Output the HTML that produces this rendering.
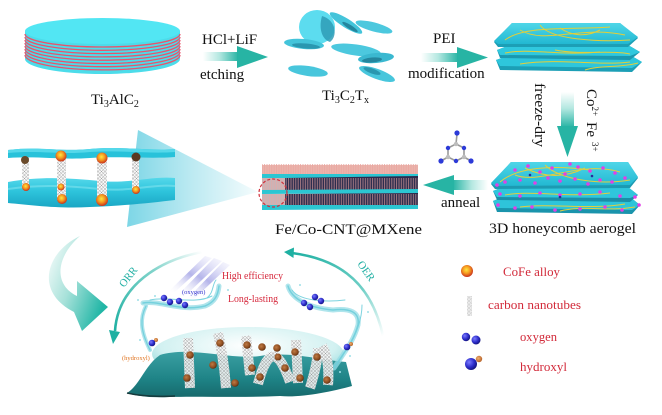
<!DOCTYPE html>
<html><head><meta charset="utf-8">
<style>
html,body{margin:0;padding:0;background:#fff;}
svg{display:block;}
text{font-family:"Liberation Serif","DejaVu Serif",serif;}
</style></head><body>
<svg width="662" height="415" viewBox="0 0 662 415" xmlns="http://www.w3.org/2000/svg">
<defs>
 <linearGradient id="gR" x1="0" y1="0" x2="1" y2="0">
  <stop offset="0" stop-color="#ffffff"/>
  <stop offset="0.45" stop-color="#b5e8e1"/>
  <stop offset="1" stop-color="#22b2a2"/>
 </linearGradient>
 <linearGradient id="gL" x1="1" y1="0" x2="0" y2="0">
  <stop offset="0" stop-color="#ffffff"/>
  <stop offset="0.45" stop-color="#b5e8e1"/>
  <stop offset="1" stop-color="#22b2a2"/>
 </linearGradient>
 <linearGradient id="gD" x1="0" y1="0" x2="0" y2="1">
  <stop offset="0" stop-color="#ffffff"/>
  <stop offset="0.45" stop-color="#b5e8e1"/>
  <stop offset="1" stop-color="#22b2a2"/>
 </linearGradient>
 <linearGradient id="funnel" x1="0" y1="0" x2="1" y2="0">
  <stop offset="0" stop-color="#7dd6e6"/>
  <stop offset="0.5" stop-color="#bdeaf2"/>
  <stop offset="1" stop-color="#f5fcfd"/>
 </linearGradient>
 <linearGradient id="curv" x1="0" y1="0" x2="1" y2="0.6">
  <stop offset="0" stop-color="#ffffff"/>
  <stop offset="0.5" stop-color="#a6e1d9"/>
  <stop offset="1" stop-color="#22b6a6"/>
 </linearGradient>
 <linearGradient id="orr" x1="1" y1="0" x2="0" y2="1">
  <stop offset="0" stop-color="#ffffff"/>
  <stop offset="0.4" stop-color="#7fd3ca"/>
  <stop offset="1" stop-color="#1eb0a2"/>
 </linearGradient>
 <linearGradient id="oer" x1="0" y1="0" x2="1" y2="1">
  <stop offset="0" stop-color="#1eb0a2"/>
  <stop offset="0.6" stop-color="#6fcfc6"/>
  <stop offset="1" stop-color="#ffffff"/>
 </linearGradient>
 <linearGradient id="beam" x1="0" y1="1" x2="1" y2="0">
  <stop offset="0" stop-color="#ffffff" stop-opacity="0"/>
  <stop offset="0.5" stop-color="#b4b4ea"/>
  <stop offset="1" stop-color="#e6e6fa" stop-opacity="0.3"/>
 </linearGradient>
 <radialGradient id="dome" cx="0.5" cy="0.35" r="0.65">
  <stop offset="0" stop-color="#ffffff"/>
  <stop offset="0.7" stop-color="#d2f1f1"/>
  <stop offset="1" stop-color="#86d4d6"/>
 </radialGradient>
 <linearGradient id="base" x1="0" y1="0" x2="0" y2="1">
  <stop offset="0" stop-color="#3a9fa2"/>
  <stop offset="0.6" stop-color="#1e8386"/>
  <stop offset="1" stop-color="#17696c"/>
 </linearGradient>
 <linearGradient id="sheetTop" x1="0" y1="0" x2="0" y2="1">
  <stop offset="0" stop-color="#4fd6e8"/>
  <stop offset="1" stop-color="#22b8d2"/>
 </linearGradient>
 <linearGradient id="sandBot" x1="0" y1="0" x2="0" y2="1">
  <stop offset="0" stop-color="#55d8ea"/>
  <stop offset="0.45" stop-color="#2ec4dc"/>
  <stop offset="1" stop-color="#1aa6c4"/>
 </linearGradient>
 <pattern id="cnt" width="3.5" height="3.5" patternUnits="userSpaceOnUse">
  <path d="M0,0 L3.5,3.5 M3.5,0 L0,3.5" stroke="#8a8a8a" stroke-width="0.4"/>
 </pattern>
 <pattern id="brist" width="2.4" height="12" patternUnits="userSpaceOnUse">
  <path d="M0.6,0 L0.6,12" stroke="#eaa6a0" stroke-width="0.9"/>
 </pattern>
 <radialGradient id="cofe" cx="0.45" cy="0.4" r="0.6">
  <stop offset="0" stop-color="#ffe640"/>
  <stop offset="0.5" stop-color="#f59a20"/>
  <stop offset="1" stop-color="#c8301c"/>
 </radialGradient>
 <radialGradient id="blue" cx="0.35" cy="0.35" r="0.7">
  <stop offset="0" stop-color="#7a7aff"/>
  <stop offset="0.6" stop-color="#2c2cc8"/>
  <stop offset="1" stop-color="#14147a"/>
 </radialGradient>
 <radialGradient id="brown" cx="0.4" cy="0.4" r="0.65">
  <stop offset="0" stop-color="#c07a44"/>
  <stop offset="0.7" stop-color="#8a4a1e"/>
  <stop offset="1" stop-color="#4e240a"/>
 </radialGradient>
 <radialGradient id="orng" cx="0.4" cy="0.4" r="0.6">
  <stop offset="0" stop-color="#f0b070"/>
  <stop offset="1" stop-color="#b8642a"/>
 </radialGradient>
</defs>

<!-- ===== Ti3AlC2 disc ===== -->
<path d="M25,31 L25,59 A77.5,15 0 0 0 180,59 L180,31 Z" fill="#4cdcea"/>
<g fill="none" stroke="#e8546c" stroke-width="1.3">
 <path d="M25,34 A77.5,13 0 0 0 180,34"/>
 <path d="M25,37 A77.5,13.3 0 0 0 180,37"/>
 <path d="M25,40 A77.5,13.6 0 0 0 180,40"/>
 <path d="M25,43 A77.5,13.9 0 0 0 180,43"/>
 <path d="M25,46 A77.5,14.2 0 0 0 180,46"/>
 <path d="M25,49 A77.5,14.5 0 0 0 180,49"/>
 <path d="M25,52 A77.5,14.7 0 0 0 180,52"/>
 <path d="M25,55 A77.5,14.9 0 0 0 180,55"/>
</g>
<ellipse cx="102.5" cy="31" rx="77.5" ry="13" fill="#52e6f3"/>
<text x="91" y="104" font-size="15" fill="#111">Ti<tspan dy="3" font-size="10">3</tspan><tspan dy="-3">AlC</tspan><tspan dy="3" font-size="10">2</tspan></text>

<!-- arrow 1 -->
<rect x="203" y="52" width="36" height="9" fill="url(#gR)"/>
<polygon points="237,46 268,57 237,68" fill="#27b4a4"/>
<text x="202" y="44" font-size="15" fill="#111">HCl+LiF</text>
<text x="200" y="79" font-size="15" fill="#111">etching</text>

<!-- ===== Ti3C2Tx flakes ===== -->
<g>
 <ellipse cx="317" cy="27" rx="18" ry="17" fill="#5cdcef"/>
 <path d="M322,16 C336,20 338,36 330,42 C323,40 318,30 322,16 Z" fill="#2e9cb6" opacity="0.85"/>
 <ellipse cx="304" cy="44" rx="20" ry="5" fill="#44c4da" transform="rotate(5 304 44)"/>
 <ellipse cx="306" cy="46" rx="14" ry="2.5" fill="#2a97b0" transform="rotate(5 306 46)"/>
 <ellipse cx="346" cy="23" rx="19" ry="4.5" fill="#44c4da" transform="rotate(32 346 23)"/>
 <ellipse cx="350" cy="27" rx="9" ry="2" fill="#24869e" transform="rotate(32 350 27)"/>
 <ellipse cx="374" cy="27" rx="19" ry="4.5" fill="#4cc8de" transform="rotate(15 374 27)"/>
 <ellipse cx="356" cy="50" rx="25" ry="5.5" fill="#4cc8de" transform="rotate(8 356 50)"/>
 <ellipse cx="376" cy="58" rx="18" ry="5" fill="#3ab8d0" transform="rotate(-5 376 58)"/>
 <ellipse cx="372" cy="60" rx="10" ry="2.5" fill="#24869e" transform="rotate(-5 372 60)"/>
 <ellipse cx="308" cy="71" rx="20" ry="5" fill="#48c6dc" transform="rotate(8 308 71)"/>
 <ellipse cx="377" cy="74" rx="19" ry="5" fill="#48c6dc" transform="rotate(20 377 74)"/>
 <ellipse cx="372" cy="71" rx="9" ry="2.5" fill="#2a97b0" transform="rotate(20 372 71)"/>
</g>
<text x="322" y="100" font-size="15" fill="#111">Ti<tspan dy="3" font-size="10">3</tspan><tspan dy="-3">C</tspan><tspan dy="3" font-size="10">2</tspan><tspan dy="-3">T</tspan><tspan dy="3" font-size="10">x</tspan></text>

<!-- arrow 2 -->
<rect x="421" y="53" width="38" height="9" fill="url(#gR)"/>
<polygon points="457,47 488,57.5 457,68" fill="#27b4a4"/>
<text x="433" y="43" font-size="15" fill="#111">PEI</text>
<text x="408" y="78" font-size="15" fill="#111">modification</text>

<!-- ===== PEI sheets ===== -->
<g>
 <polygon points="496,60 510,55 630,55 642,62 632,72 500,70" fill="#1c9fb6"/>
 <polygon points="496,60 510,55 630,55 642,62 632,68 500,66" fill="#2ec6dc"/>
 <polygon points="497,50 510,45 628,45 640,52 630,60 500,58" fill="#1a98b0"/>
 <polygon points="497,50 510,45 628,45 640,52 630,56 500,55" fill="#30c8de"/>
 <polygon points="494,42 512,23 620,23 638,38 628,47 498,47" fill="#1c9fb6"/>
 <polygon points="494,41 512,23 620,23 638,37 628,44 498,44" fill="url(#sheetTop)"/>
 <g fill="none" stroke="#e2cf3a" stroke-width="1">
  <path d="M505,40 C525,25 570,30 610,27"/>
  <path d="M520,30 C545,45 580,25 625,35"/>
  <path d="M540,25 C550,40 600,42 630,40"/>
  <path d="M560,28 C570,35 585,38 600,30"/>
  <path d="M505,53 C530,48 560,56 600,52"/>
  <path d="M520,64 C560,58 600,66 630,62"/>
  <path d="M585,70 C600,65 620,68 638,63"/>
  <path d="M555,50 C580,55 610,50 630,54"/>
 </g>
</g>

<!-- freeze-dry & down arrow -->
<text transform="translate(535,83) rotate(90)" font-size="15" fill="#111" textLength="64" lengthAdjust="spacingAndGlyphs">freeze-dry</text>
<rect x="561" y="92" width="13" height="36" fill="url(#gD)"/>
<polygon points="557,126 578,126 567.5,157" fill="#27b4a4"/>
<text transform="translate(587,89) rotate(90)" font-size="15" fill="#111">Co<tspan dy="-5" font-size="9">2+</tspan><tspan x="33" dy="5">Fe</tspan><tspan x="53" dy="-5" font-size="9">3+</tspan></text>

<!-- ===== 3D honeycomb aerogel ===== -->
<g>
 <polygon points="493,201 505,196 630,197 640,205 632,214 497,212" fill="#1a94ac"/>
 <polygon points="493,201 505,196 630,197 640,205 632,210 497,208" fill="#2ec4da"/>
 <polygon points="493,191 505,186 628,187 638,195 630,202 497,200" fill="#1a8ea8"/>
 <polygon points="493,191 505,186 628,187 638,195 630,198 497,197" fill="#30c6dc"/>
 <polygon points="491,184 511,162 628,162 638,178 630,188 495,189" fill="#1c9ab2"/>
 <polygon points="491,183 511,162 628,162 638,177 630,185 495,186" fill="url(#sheetTop)"/>
 <g fill="none" stroke="#e0cf40" stroke-width="1">
  <path d="M500,182 C520,165 560,166 590,170"/>
  <path d="M515,175 C540,185 580,160 620,172"/>
  <path d="M545,165 C560,180 600,185 630,180"/>
  <path d="M525,168 C545,178 565,178 585,168"/>
  <path d="M505,195 C530,190 570,198 610,193"/>
  <path d="M520,207 C550,203 590,210 625,204"/>
  <path d="M560,211 C585,205 605,212 635,207"/>
 </g>
 <g fill="#e040e6">
  <circle cx="515" cy="170" r="1.8"/><circle cx="528" cy="166" r="1.8"/><circle cx="540" cy="172" r="1.8"/>
  <circle cx="552" cy="168" r="1.8"/><circle cx="565" cy="174" r="1.8"/><circle cx="578" cy="167" r="1.8"/>
  <circle cx="590" cy="171" r="1.8"/><circle cx="603" cy="168" r="1.8"/><circle cx="615" cy="173" r="1.8"/>
  <circle cx="625" cy="178" r="1.8"/><circle cx="520" cy="180" r="1.8"/><circle cx="535" cy="183" r="1.8"/>
  <circle cx="548" cy="178" r="1.8"/><circle cx="560" cy="181" r="1.8"/><circle cx="575" cy="179" r="1.8"/>
  <circle cx="588" cy="184" r="1.8"/><circle cx="600" cy="180" r="1.8"/><circle cx="612" cy="182" r="1.8"/>
  <circle cx="505" cy="182" r="1.8"/><circle cx="497" cy="185" r="1.8"/><circle cx="570" cy="164" r="1.8"/>
  <circle cx="500" cy="194" r="1.8"/><circle cx="520" cy="196" r="1.8"/><circle cx="540" cy="193" r="1.8"/>
  <circle cx="560" cy="195" r="1.8"/><circle cx="580" cy="194" r="1.8"/><circle cx="600" cy="192" r="1.8"/>
  <circle cx="620" cy="196" r="1.8"/><circle cx="635" cy="197" r="1.8"/>
  <circle cx="498" cy="205" r="1.8"/><circle cx="515" cy="208" r="1.8"/><circle cx="532" cy="207" r="1.8"/>
  <circle cx="555" cy="210" r="1.8"/><circle cx="580" cy="209" r="1.8"/><circle cx="605" cy="207" r="1.8"/>
  <circle cx="622" cy="210" r="1.8"/><circle cx="639" cy="205" r="1.8"/>
 </g>
 <g fill="#2a2a9a"><circle cx="530" cy="175" r="1.3"/><circle cx="560" cy="197" r="1.3"/><circle cx="592" cy="176" r="1.3"/></g>
</g>
<text x="489" y="233" font-size="15" fill="#111" textLength="147" lengthAdjust="spacingAndGlyphs">3D honeycomb aerogel</text>

<!-- anneal arrow -->
<rect x="452" y="180" width="36" height="10" fill="url(#gL)"/>
<polygon points="454,175 423,185 454,195" fill="#27b4a4"/>
<text x="441" y="207" font-size="15" fill="#111">anneal</text>

<!-- melamine -->
<g>
 <g stroke="#9a9a9a" stroke-width="1.6">
  <line x1="456" y1="144" x2="464" y2="148"/><line x1="464" y1="148" x2="464" y2="157"/>
  <line x1="464" y1="157" x2="456" y2="161"/><line x1="456" y1="161" x2="448" y2="157"/>
  <line x1="448" y1="157" x2="448" y2="148"/><line x1="448" y1="148" x2="456" y2="144"/>
  <line x1="456" y1="144" x2="457" y2="134"/><line x1="464" y1="157" x2="471" y2="161"/>
  <line x1="448" y1="157" x2="441" y2="161"/>
 </g>
 <g fill="#2c3ad8"><circle cx="457" cy="133" r="2.6"/><circle cx="471" cy="161" r="2.6"/><circle cx="441" cy="161" r="2.6"/>
 <circle cx="464" cy="148" r="2.2"/><circle cx="456" cy="161" r="2.2"/><circle cx="448" cy="148" r="2.2"/></g>
 <g fill="#bdbdbd"><circle cx="456" cy="144" r="2.2"/><circle cx="464" cy="157" r="2.2"/><circle cx="448" cy="157" r="2.2"/></g>
</g>

<!-- ===== Fe/Co-CNT@MXene ===== -->
<g>
 <rect x="262" y="165" width="156" height="10" fill="#eab4ac"/>
 <rect x="262" y="164" width="156" height="11" fill="url(#brist)"/>
 <path d="M262,174 L418,174 L418,178 L262,178 Z" fill="#2cc6d2"/>
 <path d="M285,178 L418,176 L418,190 L285,191 Z" fill="#2c2c4e"/>
 <rect x="262" y="178" width="23" height="12" fill="#c8b4b8"/>
 <rect x="262" y="178" width="156" height="12" fill="url(#brist)" opacity="0.7"/>
 <path d="M262,190 L418,189 L418,193 L262,194 Z" fill="#2cc6d2"/>
 <path d="M285,194 L418,193 L418,205 L285,206 Z" fill="#2a2a4c"/>
 <rect x="262" y="194" width="23" height="12" fill="#c8b4b8"/>
 <rect x="262" y="194" width="156" height="12" fill="url(#brist)" opacity="0.7"/>
 <path d="M262,205 L418,205 L418,209 L262,210 Z" fill="#2cc6d2"/>
 <circle cx="273" cy="193" r="14" fill="none" stroke="#d0303c" stroke-width="1.2" stroke-dasharray="3,2"/>
</g>
<text x="275" y="234" font-size="15" fill="#111" textLength="147" lengthAdjust="spacingAndGlyphs">Fe/Co-CNT@MXene</text>

<!-- ===== funnel arrow ===== -->
<polygon points="138,130 258,192 127,227" fill="url(#funnel)"/>

<!-- ===== left sandwich ===== -->
<g>
 <path d="M8,182 C40,176 70,178 100,181 C130,184 150,176 175,178 L175,200 C150,203 120,206 90,207 C60,209 30,205 8,203 Z" fill="url(#sandBot)"/>
 <path d="M8,189 C40,184 70,186 100,189 C130,192 150,184 175,186" fill="none" stroke="#7ee2ee" stroke-width="2" opacity="0.6"/>
 <g>
  <rect x="22" y="157" width="7" height="31" fill="#f7f7f7"/><rect x="22" y="157" width="7" height="31" fill="url(#cnt)"/>
  <rect x="57" y="155" width="9" height="45" fill="#f7f7f7"/><rect x="57" y="155" width="9" height="45" fill="url(#cnt)"/>
  <rect x="97" y="155" width="10" height="48" fill="#f7f7f7"/><rect x="97" y="155" width="10" height="48" fill="url(#cnt)"/>
  <rect x="132" y="155" width="7" height="35" fill="#f7f7f7"/><rect x="132" y="155" width="7" height="35" fill="url(#cnt)"/>
 </g>
 <path d="M8,150 C40,146 60,152 90,149 C120,146 150,151 175,149 L175,157 C150,159 120,156 90,158 C60,160 40,156 8,158 Z" fill="#28c2da"/>
 <path d="M8,150 C40,146 60,152 90,149 C120,146 150,151 175,149 L175,152 C150,154 120,150 90,152 C60,155 40,150 8,153 Z" fill="#55d8ea"/>
 <circle cx="25" cy="160" r="4" fill="#6a4a2a"/>
 <circle cx="61" cy="156" r="5.5" fill="url(#cofe)"/>
 <circle cx="102" cy="158" r="5.5" fill="url(#cofe)"/>
 <circle cx="136" cy="157" r="4.5" fill="#5a3a22"/>
 <circle cx="26" cy="187" r="4" fill="url(#cofe)"/>
 <circle cx="61" cy="187" r="3.5" fill="url(#cofe)"/>
 <circle cx="62" cy="199" r="5" fill="url(#cofe)"/>
 <circle cx="102" cy="200" r="6" fill="url(#cofe)"/>
 <circle cx="136" cy="190" r="4" fill="url(#cofe)"/>
</g>

<!-- ===== big curved arrow ===== -->
<path d="M80,236 C46,252 34,292 74,312 L82,331 L108,307 L77,281 L77,296 C54,285 55,258 80,236 Z" fill="url(#curv)"/>

<!-- ===== bottom scene ===== -->
<!-- ORR arc -->
<path d="M202,252 C160,260 118,285 115,331" fill="none" stroke="url(#orr)" stroke-width="2.6"/>
<polygon points="109,330 120,332 113,344" fill="#1eb0a2"/>
<text transform="translate(124,288) rotate(-52)" font-size="11" fill="#22b0a4">ORR</text>
<!-- OER arc -->
<path d="M292,253 C330,258 370,275 383,336" fill="none" stroke="url(#oer)" stroke-width="2.6"/>
<polygon points="284,252 294,247.5 293.5,258" fill="#1eb0a2"/>
<text transform="translate(357,264) rotate(55)" font-size="11" fill="#22b0a4">OER</text>

<!-- beams -->
<polygon points="168,292 175,292 212,258 205,256" fill="url(#beam)"/>
<polygon points="177,296 185,296 222,261 214,258" fill="url(#beam)"/>
<polygon points="186,300 193,300 230,265 223,262" fill="url(#beam)"/>

<text x="222" y="279" font-size="10.5" fill="#d6283c" textLength="61" lengthAdjust="spacingAndGlyphs">High efficiency</text>
<text x="228" y="302" font-size="10.5" fill="#d6283c" textLength="50" lengthAdjust="spacingAndGlyphs">Long-lasting</text>
<text x="182" y="294" font-size="6.5" fill="#3535d0">(oxygen)</text>
<text x="122" y="360" font-size="6.5" fill="#e07420">(hydroxyl)</text>

<!-- dome -->
<ellipse cx="248" cy="354" rx="96" ry="27" fill="url(#dome)"/>
<!-- base -->
<path d="M127,393 C140,385 145,365 160,355 C190,346 230,360 260,356 C290,351 320,360 346,362 L352,386 C330,392 300,398 280,396 C240,398 200,396 170,397 C150,398 135,396 127,393 Z" fill="url(#base)"/>
<path d="M127,393 C140,396 160,397 175,396" fill="none" stroke="#163a3c" stroke-width="1.5"/>

<!-- splashes -->
<g fill="none" stroke="#96dce5" stroke-linecap="round" opacity="0.75">
 <path d="M143,303 C160,300 180,312 205,306 C215,302 218,295 219,286" stroke-width="5"/>
 <path d="M146,306 C140,318 140,330 150,350" stroke-width="4"/>
 <path d="M288,286 C292,300 310,308 333,310 C350,308 360,312 358,325 C354,340 346,350 334,368" stroke-width="5"/>
</g>
<g fill="none" stroke="#6fcfdc" stroke-linecap="round" opacity="0.9">
 <path d="M143,303 C160,300 180,312 205,306 C215,302 218,295 219,286" stroke-width="1.5"/>
 <path d="M146,306 C140,318 140,330 150,350" stroke-width="1.3"/>
 <path d="M150,300 C170,296 195,305 212,296" stroke-width="1"/>
 <path d="M207,298 C214,292 212,285 216,280" stroke-width="1"/>
 <path d="M288,286 C292,300 310,308 333,310 C350,308 360,312 358,325 C354,340 346,350 334,368" stroke-width="1.5"/>
 <path d="M292,290 C300,302 330,302 345,300" stroke-width="1"/>
 <path d="M362,305 C362,320 356,335 347,350" stroke-width="1"/>
</g>
<g fill="#9ee0e8">
 <circle cx="138" cy="300" r="1"/><circle cx="155" cy="296" r="1"/><circle cx="228" cy="290" r="1"/>
 <circle cx="140" cy="340" r="1"/><circle cx="300" cy="285" r="1"/><circle cx="368" cy="312" r="1"/>
 <circle cx="340" cy="372" r="1"/><circle cx="350" cy="356" r="1"/>
</g>

<!-- CNTs -->
<g fill="none" stroke-linecap="butt">
 <g stroke="#f4f4f4" stroke-width="10" opacity="0.9">
  <path d="M190,388 L188,338"/><path d="M226,388 Q224,360 218,333"/><path d="M250,375 L246,336"/>
  <path d="M258,384 Q272,330 290,382"/><path d="M298,383 L296,340"/><path d="M310,388 Q318,362 318,348"/>
  <path d="M328,385 Q330,360 322,346"/>
 </g>
 <g stroke="url(#cnt)" stroke-width="10">
  <path d="M190,388 L188,338"/><path d="M226,388 Q224,360 218,333"/><path d="M250,375 L246,336"/>
  <path d="M258,384 Q272,330 290,382"/><path d="M298,383 L296,340"/><path d="M310,388 Q318,362 318,348"/>
  <path d="M328,385 Q330,360 322,346"/>
 </g>
</g>
<g fill="url(#brown)">
 <circle cx="190" cy="355" r="3.8"/><circle cx="213" cy="365" r="3.8"/><circle cx="187" cy="378" r="3.8"/>
 <circle cx="220" cy="343" r="3.8"/><circle cx="235" cy="383" r="3.8"/><circle cx="247" cy="345" r="3.8"/>
 <circle cx="252" cy="368" r="3.8"/><circle cx="262" cy="347" r="3.8"/><circle cx="277" cy="348" r="3.8"/>
 <circle cx="278" cy="357" r="3.5"/><circle cx="285" cy="368" r="3.8"/><circle cx="295" cy="352" r="3.8"/>
 <circle cx="300" cy="378" r="3.8"/><circle cx="317" cy="357" r="3.8"/><circle cx="327" cy="380" r="3.8"/>
 <circle cx="260" cy="377" r="3.8"/>
</g>

<!-- molecules in scene -->
<g>
 <circle cx="164" cy="298" r="3.2" fill="url(#blue)"/><circle cx="170" cy="302" r="3.2" fill="url(#blue)"/>
 <circle cx="179" cy="301" r="3.2" fill="url(#blue)"/><circle cx="185" cy="305" r="3.2" fill="url(#blue)"/>
 <circle cx="304" cy="303" r="3.2" fill="url(#blue)"/><circle cx="310" cy="307" r="3.2" fill="url(#blue)"/>
 <circle cx="315" cy="297" r="3.2" fill="url(#blue)"/><circle cx="321" cy="301" r="3.2" fill="url(#blue)"/>
 <circle cx="156" cy="340" r="2" fill="url(#orng)"/><circle cx="152" cy="343" r="3.3" fill="url(#blue)"/>
 <circle cx="351" cy="344" r="2" fill="url(#orng)"/><circle cx="347" cy="347" r="3.3" fill="url(#blue)"/>
</g>

<!-- ===== legend ===== -->
<circle cx="467" cy="271" r="6" fill="url(#cofe)"/>
<text x="503" y="276" font-size="12.5" fill="#d22a3a" textLength="57" lengthAdjust="spacingAndGlyphs">CoFe alloy</text>
<rect x="467" y="296" width="5" height="20" fill="#ececec"/>
<rect x="467" y="296" width="5" height="20" fill="url(#cnt)" opacity="0.5"/>
<text x="488" y="309" font-size="12.5" fill="#d22a3a" textLength="93" lengthAdjust="spacingAndGlyphs">carbon nanotubes</text>
<circle cx="466" cy="337" r="4.2" fill="url(#blue)"/><circle cx="476" cy="340" r="4.5" fill="url(#blue)"/>
<text x="520" y="341" font-size="12.5" fill="#d22a3a" textLength="37" lengthAdjust="spacingAndGlyphs">oxygen</text>
<circle cx="479" cy="359" r="3.2" fill="url(#orng)"/>
<circle cx="471" cy="364" r="6" fill="url(#blue)"/>
<text x="520" y="371" font-size="12.5" fill="#d22a3a" textLength="47" lengthAdjust="spacingAndGlyphs">hydroxyl</text>
</svg>
</body></html>
